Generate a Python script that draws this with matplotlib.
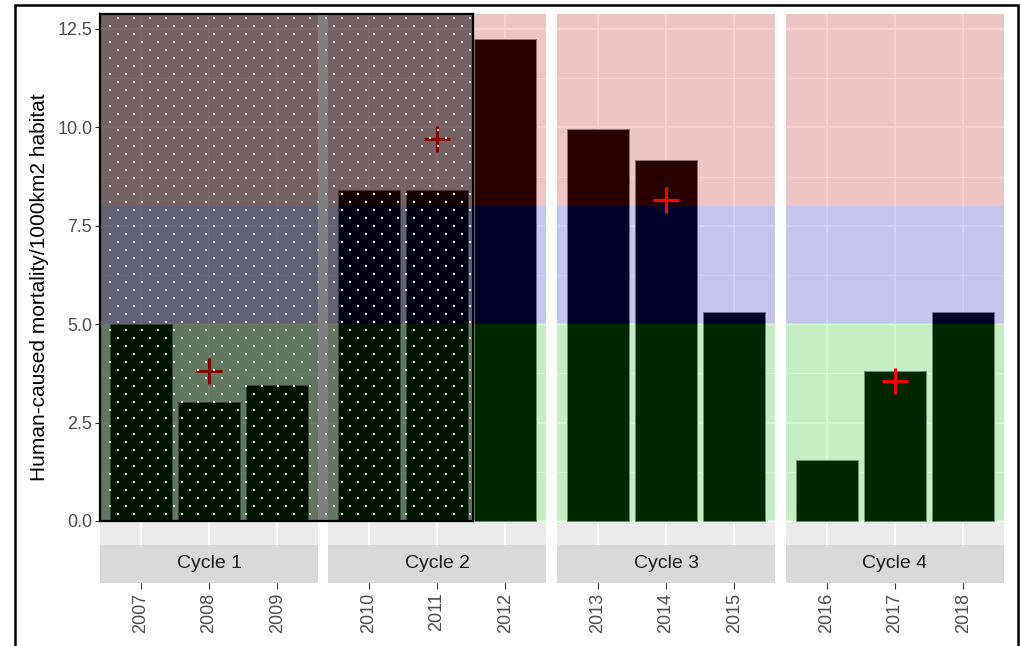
"""
Human-caused mortality per cycle, faceted bars with threshold bands.
"""

import matplotlib

matplotlib.use("Agg")

import matplotlib.pyplot as plt
import numpy as np
from matplotlib.patches import Rectangle

plt.rcParams["font.family"] = ["Liberation Sans", "DejaVu Sans"]

# ============================================================
# Data
# ============================================================

cycles = ["Cycle 1", "Cycle 2", "Cycle 3", "Cycle 4"]
years = [
    ["2007", "2008", "2009"],
    ["2010", "2011", "2012"],
    ["2013", "2014", "2015"],
    ["2016", "2017", "2018"],
]
mortality = [
    [5.00, 3.03, 3.45],
    [8.42, 8.42, 12.25],
    [9.95, 9.18, 5.32],
    [1.55, 3.80, 5.32],
]
cycle_mean = [3.82, 9.70, 8.15, 3.55]
mean_pos = [1, 1, 1, 1]

band_low = [0.0, 5.0, 8.0]
band_high = [5.0, 8.0, 99.0]
band_colors = ["#00FF00", "#0000FF", "#FF0000"]

y_ticks = [0.0, 2.5, 5.0, 7.5, 10.0, 12.5]
y_label = "Human-caused mortality/1000km2 habitat"

# ============================================================
# Layout (pixels)
# ============================================================

W, H = 1021, 646
panel_left = [100, 328, 557, 786]
panel_w = 218
panel_top, panel_bottom = 14, 545
strip_bottom = 583


def px_rect(x0, y0, x1, y1):
    return [x0 / W, 1 - y1 / H, (x1 - x0) / W, (y1 - y0) / H]


fig = plt.figure(figsize=(W / 100, H / 100), dpi=100)

grey_text = "#4D4D4D"

for i, cycle in enumerate(cycles):
    x0 = panel_left[i]
    ax = fig.add_axes(px_rect(x0, panel_top, x0 + panel_w, panel_bottom))
    ax.set_facecolor("#EBEBEB")
    ax.set_xlim(-0.6, 2.6)
    ax.set_ylim(-0.61, 12.88)
    for s in ax.spines.values():
        s.set_visible(False)

    # grid
    for yv in y_ticks:
        ax.axhline(yv, color="white", lw=1.1, zorder=0.5)
    for yv in np.array(y_ticks[:-1]) + 1.25:
        ax.axhline(yv, color="white", lw=0.5, zorder=0.5)
    for xv in range(3):
        ax.axvline(xv, color="white", lw=1.1, zorder=0.5)

    ax.bar(
        range(3),
        mortality[i],
        width=0.9,
        color="black",
        edgecolor="#808080",
        linewidth=0.7,
        zorder=1,
    )

    for lo, hi, col in zip(band_low, band_high, band_colors):
        ax.axhspan(lo, hi, color=col, alpha=0.16, lw=0, zorder=2)

    ax.plot(
        mean_pos[i],
        cycle_mean[i],
        marker="+",
        color="red",
        markersize=19,
        markeredgewidth=2.2,
        linestyle="none",
        zorder=3,
    )

    ax.set_xticks([])
    if i == 0:
        ax.set_yticks(y_ticks)
        ax.set_yticklabels([f"{v:.1f}" for v in y_ticks])
        ax.tick_params(
            axis="y",
            length=3.5,
            width=0.8,
            color="#333333",
            labelcolor=grey_text,
            labelsize=13,
            pad=2,
        )
    else:
        ax.set_yticks([])

    # strip with the year ticks below it
    st = fig.add_axes(px_rect(x0, panel_bottom, x0 + panel_w, strip_bottom))
    st.set_facecolor("#D9D9D9")
    st.set_xlim(-0.6, 2.6)
    st.set_ylim(0, 1)
    for s in st.spines.values():
        s.set_visible(False)
    st.set_yticks([])
    st.set_xticks(range(3))
    st.set_xticklabels(years[i], rotation=90)
    st.tick_params(
        axis="x",
        length=4,
        width=0.8,
        color="#333333",
        labelcolor=grey_text,
        labelsize=13,
        pad=3,
    )
    st.text(
        1, 0.5, cycle,
        ha="center",
        va="center",
        fontsize=14,
        color="#1A1A1A",
    )

fig.text(
    40 / W,
    1 - 287 / H,
    y_label,
    rotation=90,
    ha="center",
    va="center",
    fontsize=15,
    color="black",
)

# ============================================================
# Dotted overlay box
# ============================================================

ov_x0, ov_y0, ov_x1, ov_y1 = 100, 14, 473, 521
ov = fig.add_axes(px_rect(ov_x0, ov_y0, ov_x1, ov_y1))
ov.set_xlim(0, ov_x1 - ov_x0)
ov.set_ylim(ov_y1 - ov_y0, 0)
ov.set_facecolor((0, 0, 0, 0.5))
ov.set_xticks([])
ov.set_yticks([])
for s in ov.spines.values():
    s.set_color("black")
    s.set_linewidth(1.6)

dot_x, dot_y = [], []
for r, yy in enumerate(np.arange(4, ov_y1 - ov_y0, 8)):
    xs = np.arange(18 - 8 * (r % 2), ov_x1 - ov_x0, 16)
    dot_x.extend(xs)
    dot_y.extend([yy] * len(xs))
ov.plot(
    dot_x, dot_y,
    marker="s",
    markersize=1.6,
    color="white",
    alpha=0.9,
    linestyle="none",
    markeredgewidth=0,
)

# figure frame
fig.add_artist(
    Rectangle(
        (15 / W, -0.1),
        (1018 - 15) / W,
        1 - 5 / H + 0.1,
        transform=fig.transFigure,
        fill=False,
        edgecolor="black",
        linewidth=1.8,
    )
)

fig.savefig("out.png", dpi=100)
